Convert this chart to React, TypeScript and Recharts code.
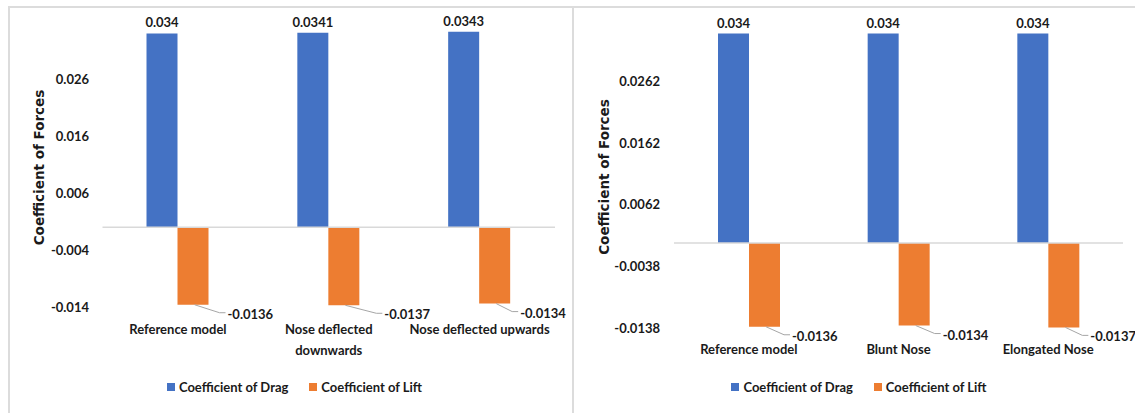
import React from 'react';
import { BarChart, Bar, XAxis, YAxis, ReferenceLine, LabelList, Label } from 'recharts';

// series shared by both panels
const SERIES_NAMES = ['Coefficient of Drag', 'Coefficient of Lift'];
const SERIES_COLORS = ['#4472C4', '#ED7D31'];
const AXIS_TITLE = 'Coefficient of Forces';

// left panel: nose deflection
const DEFLECT_CASES = ['Reference model', 'Nose deflected\ndownwards', 'Nose deflected upwards'];
const DEFLECT_DRAG = [0.034, 0.0341, 0.0343];
const DEFLECT_LIFT = [-0.0136, -0.0137, -0.0134];
const DEFLECT_TICKS = [-0.014, -0.004, 0.006, 0.016, 0.026];
const DEFLECT_DOMAIN = [-0.014, 0.036];

// right panel: nose shape
const SHAPE_CASES = ['Reference model', 'Blunt Nose', 'Elongated Nose'];
const SHAPE_DRAG = [0.034, 0.034, 0.034];
const SHAPE_LIFT = [-0.0136, -0.0134, -0.0137];
const SHAPE_TICKS = [-0.0138, -0.0038, 0.0062, 0.0162, 0.0262];
const SHAPE_DOMAIN = [-0.0138, 0.0362];

const FONT = 'Lato, "Open Sans", sans-serif';
const TEXT_STYLE = { fontFamily: FONT, fontWeight: 700, fontSize: 13, fill: '#1a1a1a' };
const BORDER = '#dcdcdc';

const CaseTick = ({ x, y, payload, firstDy }: any) => {
  const lines = String(payload.value).split('\n');
  return (
    <g>
      {lines.map((line, i) => (
        <text key={i} x={x} y={y + firstDy + i * 21} textAnchor="middle" dominantBaseline="central" style={TEXT_STYLE}>
          {line}
        </text>
      ))}
    </g>
  );
};

// lift value sits beside the bar end with a small leader line, like Excel's callouts
// (each callout was nudged by hand in the original, hence one offset per bar)
const makeLiftLabel = (offsets: number[]) => (props: any) => {
  const vb = props.viewBox ?? props;
  const { x, y, width, height } = vb;
  const bottom = Math.max(y, y + height);
  const right = Math.max(x, x + width);
  const left = Math.min(x, x + width);
  const dx = offsets[props.index ?? 0] ?? 14;
  const tx = right + dx;
  const sx = left + Math.abs(width) * 0.55;
  return (
    <g>
      <polyline
        points={`${sx},${bottom} ${tx - 8},${bottom + 8} ${tx - 2},${bottom + 8}`}
        fill="none"
        stroke="#a6a6a6"
        strokeWidth={1}
      />
      <text x={tx} y={bottom + 9} dominantBaseline="central" style={TEXT_STYLE}>
        {props.value}
      </text>
    </g>
  );
};

const ChartLegend = ({ left, width }: { left: number; width: number }) => (
  <div
    style={{
      position: 'absolute',
      left,
      width,
      top: 379,
      height: 16,
      display: 'flex',
      justifyContent: 'center',
      alignItems: 'center',
      gap: 21,
      fontFamily: FONT,
      fontWeight: 700,
      fontSize: 13,
      color: '#1a1a1a',
    }}
  >
    {SERIES_NAMES.map((name, i) => (
      <div key={name} style={{ display: 'flex', alignItems: 'center', gap: 4 }}>
        <span style={{ width: 8, height: 8, background: SERIES_COLORS[i], display: 'inline-block' }} />
        <span>{name}</span>
      </div>
    ))}
  </div>
);

interface PanelProps {
  left: number;
  width: number;
  cases: string[];
  drag: number[];
  lift: number[];
  ticks: number[];
  domain: number[];
  margin: { top: number; right: number; bottom: number; left: number };
  yAxisWidth: number;
  tickGap: number;
  titleX: number;
  caseDy: number;
  liftOffsets: number[];
  legendLeft: number;
}

const ForcePanel = (p: PanelProps) => {
  const rows = p.cases.map((name, i) => ({ name, drag: p.drag[i], lift: p.lift[i] }));
  return (
    <div style={{ position: 'absolute', left: p.left, top: 0, width: p.width, height: 413 }}>
      <BarChart width={p.width} height={413} data={rows} margin={p.margin} barGap={0} barSize={31}>
        <XAxis
          dataKey="name"
          axisLine={false}
          tickLine={false}
          tickSize={0}
          tickMargin={0}
          height={30}
          interval={0}
          tick={(t: any) => <CaseTick {...t} firstDy={p.caseDy} />}
        />
        <YAxis
          type="number"
          domain={p.domain}
          ticks={p.ticks}
          width={p.yAxisWidth}
          axisLine={false}
          tickLine={false}
          tickSize={0}
          tickMargin={p.tickGap}
          tickFormatter={(v: number) => String(v)}
          tick={TEXT_STYLE}
          allowDataOverflow
        >
          <Label
            content={(lp: any) => {
              const vb = lp.viewBox;
              const cy = vb.y + vb.height / 2 + 3;
              return (
                <text
                  transform={`translate(${p.titleX},${cy}) rotate(-90)`}
                  textAnchor="middle"
                  dominantBaseline="central"
                  style={{ fontFamily: '"DejaVu Sans", sans-serif', fontWeight: 700, fontSize: 13.5, fill: '#1a1a1a' }}
                >
                  {AXIS_TITLE}
                </text>
              );
            }}
          />
        </YAxis>
        <ReferenceLine y={0} stroke="#d9d9d9" strokeWidth={1.5} />
        <Bar dataKey="drag" name={SERIES_NAMES[0]} fill={SERIES_COLORS[0]} isAnimationActive={false}>
          <LabelList dataKey="drag" position="top" offset={6} style={TEXT_STYLE} />
        </Bar>
        <Bar dataKey="lift" name={SERIES_NAMES[1]} fill={SERIES_COLORS[1]} isAnimationActive={false}>
          <LabelList dataKey="lift" content={makeLiftLabel(p.liftOffsets)} />
        </Bar>
      </BarChart>
      <ChartLegend left={p.legendLeft} width={p.width} />
    </div>
  );
};

export default function App() {
  return (
    <div style={{ position: 'relative', width: 1135, height: 413, overflow: 'hidden', background: '#fff' }}>
      <style>{'body{margin:0}'}</style>
      <ForcePanel
        left={0}
        width={573}
        cases={DEFLECT_CASES}
        drag={DEFLECT_DRAG}
        lift={DEFLECT_LIFT}
        ticks={DEFLECT_TICKS}
        domain={DEFLECT_DOMAIN}
        margin={{ top: 22, right: 18, bottom: 76, left: 0 }}
        yAxisWidth={102.5}
        tickGap={13.5}
        titleX={39.3}
        caseDy={22.3}
        liftOffsets={[19, 25, 10]}
        legendLeft={8}
      />
      <ForcePanel
        left={573}
        width={562}
        cases={SHAPE_CASES}
        drag={SHAPE_DRAG}
        lift={SHAPE_LIFT}
        ticks={SHAPE_TICKS}
        domain={SHAPE_DOMAIN}
        margin={{ top: 20, right: 12, bottom: 55, left: 0 }}
        yAxisWidth={101}
        tickGap={14}
        titleX={31}
        caseDy={21}
        liftOffsets={[12, 13, 11]}
        legendLeft={5}
      />
      <div style={{ position: 'absolute', left: 8, top: 6, width: 1127, height: 1.5, background: BORDER }} />
      <div style={{ position: 'absolute', left: 8, top: 6, width: 1.5, height: 407, background: BORDER }} />
      <div style={{ position: 'absolute', left: 572, top: 6, width: 2, height: 407, background: BORDER }} />
    </div>
  );
}
